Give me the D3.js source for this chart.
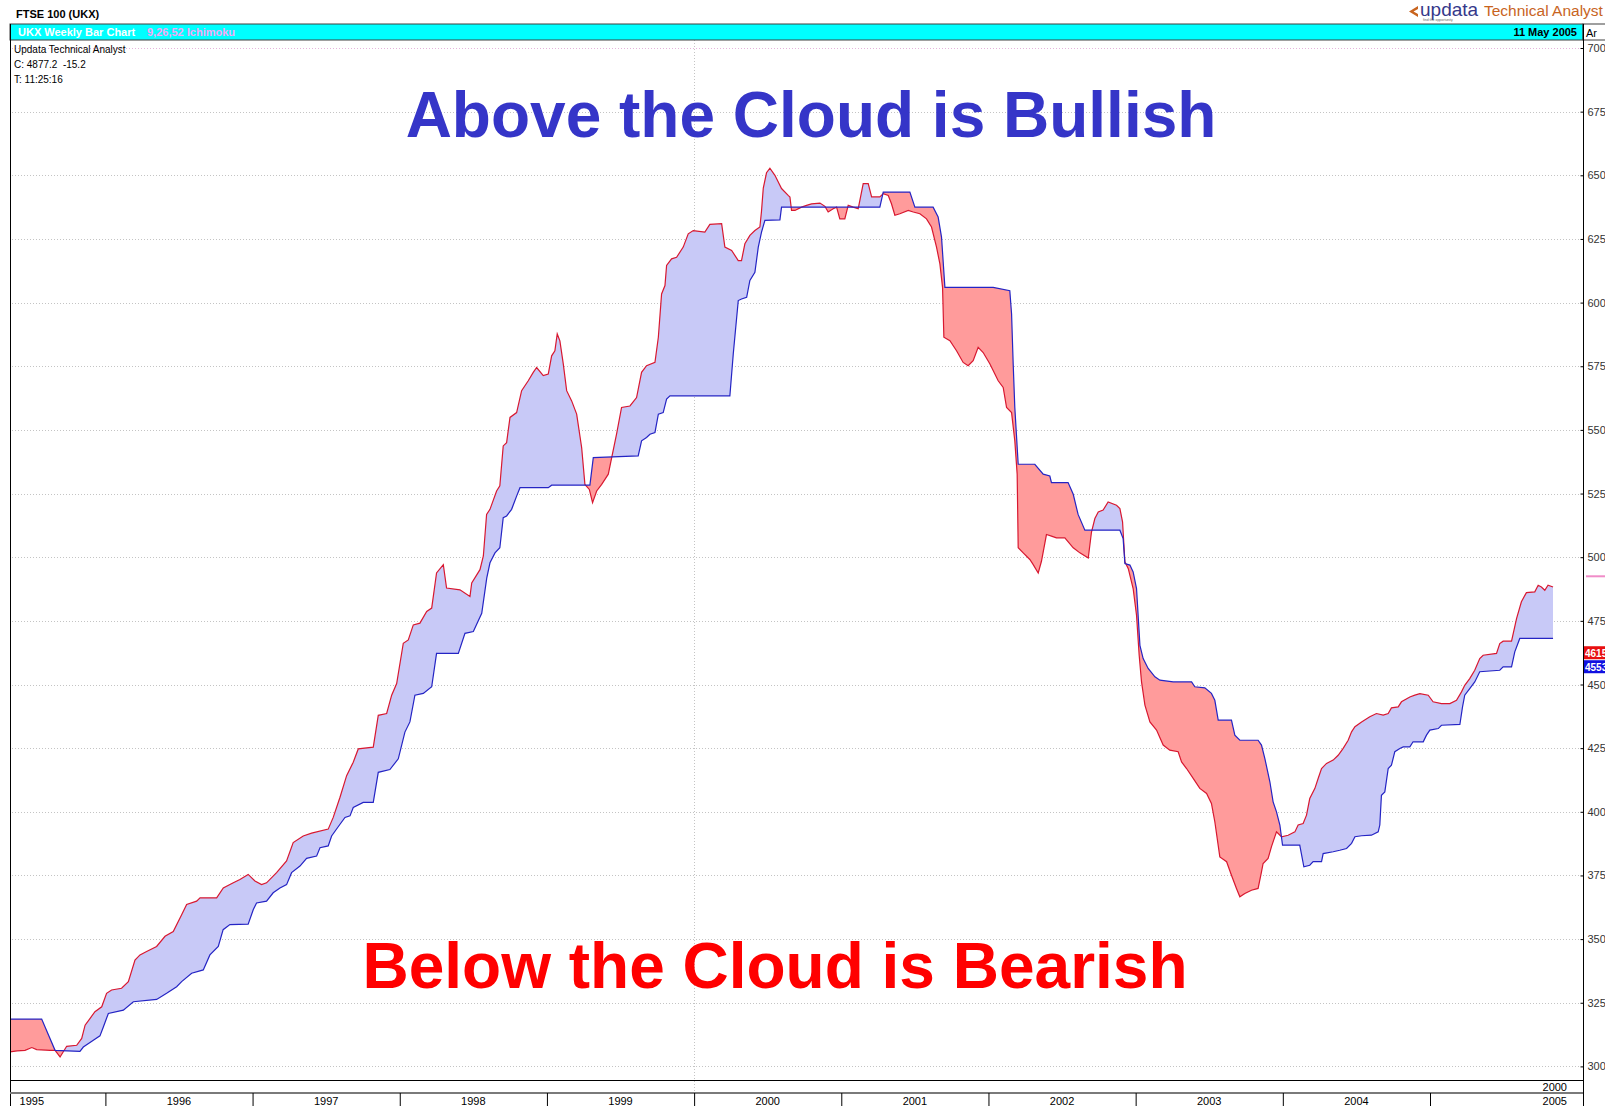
<!DOCTYPE html>
<html>
<head>
<meta charset="utf-8">
<script src="https://cdn.jsdelivr.net/npm/d3@7/dist/d3.min.js"></script>
<style>
  body { margin: 0; background: #fff; }
  svg { display: block; font-family: "Liberation Sans", Arial, sans-serif; }
</style>
</head>
<body>
<div id="chart"></div>
<script>
// Senkou span A (red line), [decimal year, FTSE level]
var spanA = [
  [1995.352,3057],[1995.40,3061],[1995.454,3063],[1995.50,3074],[1995.533,3066],[1995.624,3063],
  [1995.658,3063],[1995.692,3037],[1995.737,3079],[1995.805,3083],[1995.839,3110],[1995.862,3162],
  [1995.895,3188],[1995.929,3215],[1995.975,3234],[1996.008,3287],[1996.042,3300],[1996.11,3307],
  [1996.156,3333],[1996.201,3418],[1996.235,3438],[1996.28,3451],[1996.348,3471],[1996.405,3511],
  [1996.461,3530],[1996.518,3596],[1996.552,3636],[1996.62,3649],[1996.643,3662],[1996.756,3662],
  [1996.801,3701],[1996.869,3721],[1996.914,3734],[1996.97,3754],[1997.016,3728],[1997.061,3714],
  [1997.095,3721],[1997.163,3761],[1997.231,3807],[1997.276,3879],[1997.344,3905],[1997.401,3916],
  [1997.514,3932],[1997.548,3978],[1997.594,4057],[1997.639,4142],[1997.684,4195],[1997.718,4247],
  [1997.82,4254],[1997.854,4379],[1997.911,4386],[1997.945,4458],[1997.979,4504],[1998.024,4662],
  [1998.058,4675],[1998.092,4734],[1998.137,4741],[1998.183,4787],[1998.217,4800],[1998.25,4938],
  [1998.296,4971],[1998.318,4879],[1998.409,4872],[1998.477,4846],[1998.489,4899],[1998.545,4951],
  [1998.568,5005],[1998.59,5168],[1998.613,5188],[1998.658,5260],[1998.68,5280],[1998.703,5437],
  [1998.726,5450],[1998.749,5549],[1998.794,5568],[1998.828,5654],[1998.873,5693],[1998.907,5726],
  [1998.93,5745],[1998.975,5713],[1999.009,5719],[1999.032,5791],[1999.054,5811],[1999.07,5877],
  [1999.088,5850],[1999.111,5759],[1999.134,5654],[1999.168,5614],[1999.202,5562],[1999.236,5430],
  [1999.258,5286],[1999.288,5266],[1999.31,5214],[1999.338,5260],[1999.372,5286],[1999.417,5326],
  [1999.44,5391],[1999.473,5483],[1999.507,5588],[1999.564,5594],[1999.609,5627],[1999.643,5726],
  [1999.677,5752],[1999.734,5765],[1999.757,5864],[1999.779,6034],[1999.802,6067],[1999.813,6146],
  [1999.847,6172],[1999.881,6178],[1999.926,6218],[1999.96,6270],[1999.994,6283],[2000.073,6277],
  [2000.107,6307],[2000.187,6310],[2000.209,6218],[2000.255,6205],[2000.30,6165],[2000.322,6165],
  [2000.345,6231],[2000.379,6264],[2000.413,6283],[2000.447,6297],[2000.458,6360],[2000.47,6450],
  [2000.492,6510],[2000.515,6528],[2000.549,6500],[2000.594,6448],[2000.639,6421],[2000.651,6415],
  [2000.662,6362],[2000.685,6362],[2000.73,6375],[2000.764,6382],[2000.798,6388],[2000.855,6391],
  [2000.889,6378],[2000.911,6356],[2000.945,6369],[2000.968,6375],[2000.99,6329],[2001.024,6329],
  [2001.047,6382],[2001.081,6375],[2001.115,6369],[2001.149,6467],[2001.183,6467],[2001.206,6415],
  [2001.262,6415],[2001.285,6428],[2001.319,6421],[2001.341,6388],[2001.364,6343],[2001.398,6349],
  [2001.455,6362],[2001.489,6356],[2001.534,6349],[2001.579,6329],[2001.613,6297],[2001.647,6218],
  [2001.67,6152],[2001.688,6060],[2001.697,5864],[2001.738,5850],[2001.783,5811],[2001.828,5765],
  [2001.862,5752],[2001.896,5772],[2001.93,5824],[2001.964,5804],[2002.01,5759],[2002.066,5693],
  [2002.10,5667],[2002.123,5588],[2002.157,5568],[2002.179,5457],[2002.195,5326],[2002.202,5037],
  [2002.236,5017],[2002.281,4991],[2002.304,4971],[2002.338,4938],[2002.36,4984],[2002.394,5089],
  [2002.428,5083],[2002.462,5076],[2002.519,5076],[2002.576,5037],[2002.621,5017],[2002.678,4997],
  [2002.70,5099],[2002.723,5152],[2002.746,5178],[2002.779,5185],[2002.813,5217],[2002.87,5204],
  [2002.893,5191],[2002.911,5139],[2002.927,4982],[2002.95,4955],[2002.983,4877],[2003.006,4772],
  [2003.024,4615],[2003.04,4510],[2003.063,4419],[2003.097,4353],[2003.142,4321],[2003.187,4262],
  [2003.232,4242],[2003.289,4236],[2003.312,4196],[2003.346,4170],[2003.391,4131],[2003.436,4092],
  [2003.482,4072],[2003.515,4033],[2003.538,3961],[2003.572,3823],[2003.618,3804],[2003.651,3751],
  [2003.685,3699],[2003.708,3666],[2003.742,3679],[2003.787,3692],[2003.832,3699],[2003.855,3764],
  [2003.866,3797],[2003.90,3817],[2003.923,3863],[2003.957,3921],[2003.991,3902],[2004.036,3908],
  [2004.082,3921],[2004.104,3948],[2004.138,3954],[2004.161,3987],[2004.183,4052],[2004.218,4092],
  [2004.24,4131],[2004.263,4170],[2004.297,4190],[2004.342,4203],[2004.376,4222],[2004.41,4249],
  [2004.444,4281],[2004.467,4314],[2004.49,4334],[2004.535,4353],[2004.591,4373],[2004.636,4386],
  [2004.682,4380],[2004.716,4386],[2004.738,4408],[2004.784,4412],[2004.806,4432],[2004.863,4451],
  [2004.897,4458],[2004.931,4464],[2004.988,4458],[2005.021,4432],[2005.078,4425],[2005.135,4425],
  [2005.18,4438],[2005.214,4471],[2005.236,4497],[2005.27,4523],[2005.304,4556],[2005.338,4602],
  [2005.361,4615],[2005.452,4622],[2005.474,4661],[2005.497,4670],[2005.554,4670],[2005.588,4759],
  [2005.621,4825],[2005.655,4861],[2005.712,4864],[2005.735,4890],[2005.757,4883],[2005.78,4870],
  [2005.802,4890],[2005.836,4883]
];

// Senkou span B (blue line)
var spanB = [
  [1995.352,3186],[1995.567,3186],[1995.658,3063],[1995.827,3059],[1995.85,3076],[1995.918,3103],
  [1995.963,3120],[1995.986,3155],[1996.02,3208],[1996.122,3221],[1996.19,3254],[1996.348,3263],
  [1996.416,3287],[1996.484,3313],[1996.518,3333],[1996.586,3366],[1996.665,3379],[1996.71,3438],
  [1996.767,3471],[1996.80,3537],[1996.846,3557],[1996.97,3559],[1997.005,3616],[1997.027,3642],
  [1997.095,3649],[1997.14,3682],[1997.186,3701],[1997.231,3714],[1997.265,3761],[1997.322,3787],
  [1997.367,3817],[1997.435,3826],[1997.458,3859],[1997.514,3866],[1997.537,3905],[1997.594,3951],
  [1997.628,3978],[1997.662,3984],[1997.684,4017],[1997.752,4037],[1997.82,4037],[1997.854,4155],
  [1997.933,4166],[1997.99,4208],[1998.035,4313],[1998.069,4353],[1998.103,4458],[1998.16,4465],
  [1998.217,4491],[1998.25,4622],[1998.398,4622],[1998.443,4701],[1998.50,4708],[1998.557,4780],
  [1998.591,4918],[1998.613,4978],[1998.647,5017],[1998.68,5037],[1998.703,5155],[1998.726,5162],
  [1998.76,5188],[1998.794,5240],[1998.817,5273],[1999.009,5273],[1999.032,5283],[1999.292,5283],
  [1999.315,5391],[1999.62,5398],[1999.643,5457],[1999.677,5470],[1999.70,5483],[1999.734,5490],
  [1999.757,5562],[1999.79,5568],[1999.813,5621],[1999.836,5634],[2000.243,5634],[2000.266,5798],
  [2000.30,6008],[2000.322,6014],[2000.357,6021],[2000.379,6087],[2000.413,6119],[2000.436,6218],
  [2000.458,6277],[2000.481,6323],[2000.583,6325],[2000.594,6375],[2001.262,6375],[2001.285,6434],
  [2001.466,6434],[2001.50,6375],[2001.624,6375],[2001.658,6336],[2001.681,6257],[2001.704,6060],
  [2002.032,6060],[2002.145,6047],[2002.157,5955],[2002.168,5759],[2002.179,5588],[2002.202,5365],
  [2002.315,5365],[2002.372,5326],[2002.417,5319],[2002.428,5293],[2002.541,5293],[2002.576,5247],
  [2002.609,5168],[2002.655,5106],[2002.893,5106],[2002.915,5073],[2002.927,4975],[2002.961,4969],
  [2002.983,4942],[2003.006,4877],[2003.029,4654],[2003.051,4602],[2003.085,4563],[2003.131,4530],
  [2003.165,4517],[2003.255,4510],[2003.38,4510],[2003.402,4491],[2003.47,4487],[2003.515,4465],
  [2003.538,4438],[2003.561,4360],[2003.651,4360],[2003.674,4301],[2003.708,4281],[2003.832,4281],
  [2003.855,4262],[2003.878,4209],[2003.912,4118],[2003.934,4039],[2003.957,4000],[2003.98,3948],
  [2003.998,3869],[2004.115,3869],[2004.143,3784],[2004.183,3790],[2004.206,3804],[2004.263,3804],
  [2004.274,3836],[2004.342,3843],[2004.387,3849],[2004.433,3856],[2004.467,3876],[2004.49,3902],
  [2004.535,3906],[2004.602,3908],[2004.648,3921],[2004.659,3948],[2004.67,4065],[2004.693,4078],
  [2004.716,4170],[2004.738,4183],[2004.761,4236],[2004.795,4249],[2004.818,4255],[2004.863,4255],
  [2004.885,4275],[2004.954,4275],[2004.976,4301],[2004.999,4321],[2005.056,4327],[2005.078,4340],
  [2005.203,4343],[2005.221,4412],[2005.236,4458],[2005.27,4484],[2005.304,4510],[2005.338,4550],
  [2005.474,4556],[2005.497,4569],[2005.554,4569],[2005.576,4628],[2005.61,4681],[2005.836,4681]
];

var yTicks = [3000,3250,3500,3750,4000,4250,4500,4750,5000,5250,5500,5750,6000,6250,6500,6750,7000];
var yearTicks = [1996,1997,1998,1999,2000,2001,2002,2003,2004,2005];
var yearLabels = [1995,1996,1997,1998,1999,2000,2001,2002,2003,2004];
var lastYearLabel = "2005";
var decadeLabel = "2000";
var tagValues = [4615, 4553];       // red / blue value tags on the right axis
var closeMarker = 4925;             // pink marker level on the right axis
var infoLines = ["Updata Technical Analyst", "C: 4877.2  -15.2", "T: 11:25:16"];

var W = 1605, H = 1106;
// note: "top" is a reserved window property, so the plot edges get their own names
var plotLeft = 10, plotRight = 1583, plotTop = 40, plotBottom = 1080;

var x = d3.scaleLinear().domain([1996, 2005]).range([105.4, 1430]);
var y = d3.scaleLinear().domain([3000, 7000]).range([1066.4, 48]);

var svg = d3.select("#chart").append("svg")
    .attr("width", W)
    .attr("height", H);

svg.append("rect").attr("width", W).attr("height", H).attr("fill", "#fff");

var defs = svg.append("defs");
defs.append("clipPath").attr("id", "plot")
  .append("rect").attr("x", plotLeft).attr("y", plotTop)
    .attr("width", plotRight - plotLeft).attr("height", plotBottom - plotTop);

// region above span B / below span B, used to split the cloud colours
defs.append("clipPath").attr("id", "aboveB")
  .append("path").attr("d", d3.area().x(function(d){ return x(d[0]); }).y0(plotTop).y1(function(d){ return y(d[1]); })(spanB));
defs.append("clipPath").attr("id", "belowB")
  .append("path").attr("d", d3.area().x(function(d){ return x(d[0]); }).y0(plotBottom).y1(function(d){ return y(d[1]); })(spanB));

// horizontal dotted grid
svg.append("g").selectAll("line")
    .data(yTicks)
    .enter().append("line")
    .attr("x1", plotLeft + 2).attr("x2", plotRight - 3)
    .attr("y1", function(d){ return Math.round(y(d)) + 0.5; })
    .attr("y2", function(d){ return Math.round(y(d)) + 0.5; })
    .attr("stroke", function(d){ return d === 7000 ? "#e6b4dc" : "#c4c4c4"; })
    .attr("stroke-width", 1)
    .style("stroke-dasharray", "1,2");

// vertical dotted line at 2000
svg.append("line")
    .attr("x1", Math.round(x(2000)) + 0.5).attr("x2", Math.round(x(2000)) + 0.5)
    .attr("y1", plotTop).attr("y2", 1093)
    .attr("stroke", "#c4c4c4")
    .style("stroke-dasharray", "1,2");

var plot = svg.append("g").attr("clip-path", "url(#plot)");

// blue cloud: below span A and above span B
plot.append("g").attr("clip-path", "url(#aboveB)")
  .append("path")
    .datum(spanA)
    .attr("fill", "#c8c9f7")
    .attr("d", d3.area().x(function(d){ return x(d[0]); }).y0(plotBottom).y1(function(d){ return y(d[1]); }));

// red cloud: above span A and below span B
plot.append("g").attr("clip-path", "url(#belowB)")
  .append("path")
    .datum(spanA)
    .attr("fill", "#ff9b9b")
    .attr("d", d3.area().x(function(d){ return x(d[0]); }).y0(plotTop).y1(function(d){ return y(d[1]); }));

var line = d3.line().x(function(d){ return x(d[0]); }).y(function(d){ return y(d[1]); });

plot.append("path").datum(spanA)
    .attr("fill", "none").attr("stroke", "#d81830").attr("stroke-width", 1.2)
    .attr("d", line);
plot.append("path").datum(spanB)
    .attr("fill", "none").attr("stroke", "#2424c4").attr("stroke-width", 1.2)
    .attr("d", line);

// big annotations
svg.append("text")
    .attr("x", 811).attr("y", 137)
    .attr("text-anchor", "middle")
    .attr("font-size", 64).attr("font-weight", "bold")
    .attr("fill", "#3535c8")
    .text("Above the Cloud is Bullish");
svg.append("text")
    .attr("x", 775).attr("y", 988)
    .attr("text-anchor", "middle")
    .attr("font-size", 64).attr("font-weight", "bold")
    .attr("fill", "#ff0000")
    .text("Below the Cloud is Bearish");

// info text top-left
svg.append("g").selectAll("text")
    .data(infoLines)
    .enter().append("text")
    .attr("x", 14)
    .attr("y", function(d, i){ return 53 + i * 15; })
    .attr("font-size", 10)
    .attr("fill", "#000")
    .style("white-space", "pre")
    .text(function(d){ return d; });

// header
svg.append("text").attr("x", 16).attr("y", 18)
    .attr("font-size", 11).attr("font-weight", "bold").attr("fill", "#000")
    .text("FTSE 100 (UKX)");

svg.append("rect").attr("x", plotLeft).attr("y", 24).attr("width", plotRight - plotLeft).attr("height", 16)
    .attr("fill", "#00ffff").attr("stroke", "#404040").attr("stroke-width", 1);
svg.append("text").attr("x", 18).attr("y", 36)
    .attr("font-size", 11).attr("font-weight", "bold").attr("fill", "#fff")
    .text("UKX Weekly Bar Chart");
svg.append("text").attr("x", 147).attr("y", 36)
    .attr("font-size", 11).attr("font-weight", "bold").attr("fill", "#f4a8f4")
    .text("9,26,52 Ichimoku");
svg.append("text").attr("x", 1577).attr("y", 36)
    .attr("text-anchor", "end")
    .attr("font-size", 11).attr("font-weight", "bold").attr("fill", "#000")
    .text("11 May 2005");
svg.append("rect").attr("x", plotRight).attr("y", 24).attr("width", 30).attr("height", 16)
    .attr("fill", "#fff").attr("stroke", "#404040");
svg.append("text").attr("x", 1586).attr("y", 37)
    .attr("font-size", 11).attr("fill", "#000").text("Ar");

// logo
svg.append("path")
    .attr("d", "M1418,6 L1409,11.5 L1418,17 L1418,14 L1413.5,11.5 L1418,9 Z")
    .attr("fill", "#c8641e");
svg.append("text").attr("x", 1420).attr("y", 16)
    .attr("font-size", 19).attr("fill", "#35388a")
    .text("updata");
svg.append("text").attr("x", 1423).attr("y", 21)
    .attr("font-size", 3.5).attr("fill", "#666")
    .text("find the opportunity");
svg.append("text").attr("x", 1484).attr("y", 16)
    .attr("font-size", 15.5).attr("fill", "#c8641e")
    .text("Technical Analyst");

// frame
svg.append("line").attr("x1", plotLeft + 0.5).attr("x2", plotLeft + 0.5).attr("y1", 24).attr("y2", H).attr("stroke", "#000");
svg.append("line").attr("x1", plotRight + 0.5).attr("x2", plotRight + 0.5).attr("y1", 24).attr("y2", H).attr("stroke", "#000");
svg.append("line").attr("x1", plotLeft).attr("x2", plotRight).attr("y1", plotBottom + 0.5).attr("y2", plotBottom + 0.5).attr("stroke", "#000");
svg.append("line").attr("x1", plotLeft).attr("x2", plotRight).attr("y1", 1093).attr("y2", 1093).attr("stroke", "#7a7a7a").attr("stroke-width", 2);

// right value axis (labels run off the page edge, as in the original)
var yAxis = d3.axisRight(y)
    .tickValues(yTicks)
    .tickSize(-3)
    .tickPadding(4)
    .tickFormat(d3.format("d"));
var yg = svg.append("g")
    .attr("transform", "translate(" + (plotRight + 0.5) + ",0)")
    .call(yAxis);
yg.select(".domain").remove();
yg.selectAll("text").attr("font-size", 11).attr("fill", "#333").attr("font-family", "Liberation Sans, Arial");

// pink close marker and value tags
svg.append("line").attr("x1", plotRight + 3).attr("x2", W)
    .attr("y1", y(closeMarker)).attr("y2", y(closeMarker))
    .attr("stroke", "#f08cc8").attr("stroke-width", 2);

var tagColors = ["#e81010", "#1010e0"];
var tagTop = y(tagValues[0]) - 9;
svg.append("g").selectAll("g")
    .data(tagValues)
    .enter().append("g")
    .each(function(d, i){
      var g = d3.select(this);
      g.append("rect").attr("x", plotRight + 1).attr("y", tagTop + i * 14)
        .attr("width", 30).attr("height", 13).attr("fill", tagColors[i]);
      g.append("text").attr("x", plotRight + 2).attr("y", tagTop + i * 14 + 10.5)
        .attr("font-size", 10).attr("font-weight", "bold").attr("fill", "#fff")
        .text(d);
    });

// bottom year axis: separators at year starts
var xAxis = d3.axisBottom(x)
    .tickValues(yearTicks)
    .tickSize(13)
    .tickFormat("");
var xg = svg.append("g")
    .attr("transform", "translate(0,1093)")
    .call(xAxis);
xg.select(".domain").remove();
xg.selectAll("line").attr("stroke", "#000");

svg.append("g").selectAll("text")
    .data(yearLabels)
    .enter().append("text")
    .attr("x", function(d){ return x(d + 0.5); })
    .attr("y", 1105)
    .attr("text-anchor", "middle")
    .attr("font-size", 11)
    .attr("fill", "#000")
    .text(function(d){ return d; });
svg.append("text").attr("x", 1567).attr("y", 1105)
    .attr("text-anchor", "end").attr("font-size", 11).attr("fill", "#000")
    .text(lastYearLabel);
svg.append("text").attr("x", 1567).attr("y", 1091)
    .attr("text-anchor", "end").attr("font-size", 11).attr("fill", "#000")
    .text(decadeLabel);
</script>
</body>
</html>
